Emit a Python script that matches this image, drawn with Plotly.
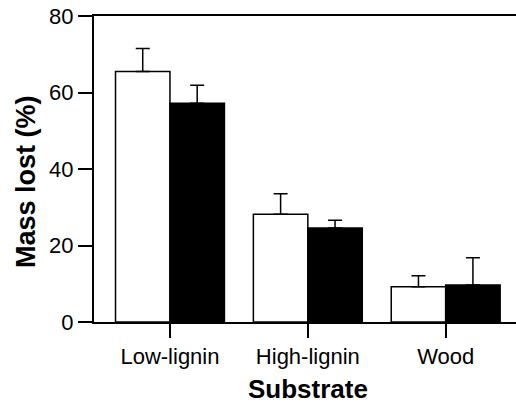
import plotly.graph_objects as go

categories = ["Low-lignin", "High-lignin", "Wood"]
open_values = [65.5, 28.2, 9.2]
open_err = [6.0, 5.3, 2.9]
filled_values = [57.2, 24.6, 9.7]
filled_err = [4.7, 2.0, 7.1]
y_ticks = [0, 20, 40, 60, 80]

FONT = "Liberation Sans, Arial, Helvetica, sans-serif"

fig = go.Figure()
fig.add_trace(go.Bar(
    x=categories, y=open_values,
    marker=dict(color="white", line=dict(color="black", width=1.5)),
    error_y=dict(type="data", symmetric=False, array=open_err,
                 arrayminus=[0] * len(open_err), color="black", thickness=1.5, width=7),
    showlegend=False,
))
fig.add_trace(go.Bar(
    x=categories, y=filled_values,
    marker=dict(color="black", line=dict(color="black", width=1.5)),
    error_y=dict(type="data", symmetric=False, array=filled_err,
                 arrayminus=[0] * len(filled_err), color="black", thickness=1.5, width=7),
    showlegend=False,
))

fig.update_layout(
    width=516, height=411,
    margin=dict(l=94, r=0, t=16, b=89),
    paper_bgcolor="white", plot_bgcolor="white",
    barmode="group", bargap=0.21, bargroupgap=0,
    font=dict(family=FONT, size=22, color="black"),
    xaxis=dict(
        range=[-0.551, 2.51], showline=True, linecolor="black", linewidth=2,
        mirror=True, ticks="outside", ticklen=14, tickwidth=2, tickcolor="black",
        showgrid=False, zeroline=False, tickfont=dict(size=22),
    ),
    yaxis=dict(
        range=[0, 80], tickvals=y_ticks, showline=True, linecolor="black", linewidth=2,
        ticks="outside", ticklen=14, tickwidth=2, tickcolor="black",
        showgrid=False, zeroline=False, tickfont=dict(size=22),
    ),
    annotations=[
        dict(text="<b>Mass lost (%)</b>", xref="paper", yref="paper",
             x=-0.161, y=0.4575, xanchor="center", yanchor="middle",
             textangle=-90, showarrow=False, font=dict(size=27, family=FONT)),
        dict(text="<b>Substrate</b>", xref="paper", yref="paper",
             x=0.507, y=-0.219, xanchor="center", yanchor="middle",
             showarrow=False, font=dict(size=26, family=FONT)),
    ],
)

fig.write_html("out.html")
